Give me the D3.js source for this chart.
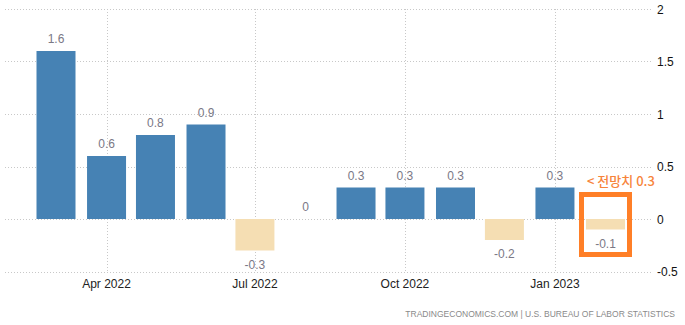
<!DOCTYPE html>
<html><head><meta charset="utf-8">
<script src="https://cdn.jsdelivr.net/npm/d3@7"></script>
<style>body{margin:0;background:#fff}svg{display:block}</style>
</head><body><svg id="c" width="685" height="325"></svg>
<script>
const months = ["2022-03","2022-04","2022-05","2022-06","2022-07","2022-08","2022-09","2022-10","2022-11","2022-12","2023-01","2023-02"];
const values = [1.6,0.6,0.8,0.9,-0.3,0,0.3,0.3,0.3,-0.2,0.3,-0.1];
const yTicks = [-0.5,0,0.5,1,1.5,2];
const xTickDates = ["2022-04","2022-07","2022-10","2023-01"];
const xTickLabels = ["Apr 2022","Jul 2022","Oct 2022","Jan 2023"];
const forecastText = "< 전망치 0.3";
const sourceText = "TRADINGECONOMICS.COM  |  U.S. BUREAU OF LABOR STATISTICS";

const parse = d3.timeParse("%Y-%m");
const svg = d3.select("#c");
const font = "'Liberation Sans', Arial, sans-serif";
const x = d3.scaleTime().domain([parse("2022-03"), parse("2023-02")]).range([56, 605.5]);
const y = d3.scaleLinear().domain([-0.5, 2]).range([271.5, 9]);
const bw = 39;
const left = 5, right = 653;
const fmt = d => String(d);

// horizontal grid
svg.append("g").selectAll("line").data(yTicks).join("line")
  .attr("x1", left).attr("x2", right)
  .attr("y1", d => Math.round(y(d)) + 0.5).attr("y2", d => Math.round(y(d)) + 0.5)
  .attr("stroke", "#c8c8c8").attr("stroke-dasharray", "1,2");
// vertical grid
svg.append("g").selectAll("line").data(xTickDates).join("line")
  .attr("x1", d => Math.round(x(parse(d))) + 0.5).attr("x2", d => Math.round(x(parse(d))) + 0.5)
  .attr("y1", y(2)).attr("y2", y(-0.5))
  .attr("stroke", "#c8c8c8").attr("stroke-dasharray", "1,2");

// y labels
svg.append("g").selectAll("text").data(yTicks).join("text")
  .attr("x", 657).attr("y", d => y(d) + 4.5)
  .attr("font-family", font).attr("font-size", 12).attr("fill", "#111")
  .text(fmt);
// x labels
svg.append("g").selectAll("text").data(xTickDates).join("text")
  .attr("x", d => x(parse(d))).attr("y", 288)
  .attr("text-anchor", "middle")
  .attr("font-family", font).attr("font-size", 12).attr("fill", "#222")
  .text((d, i) => xTickLabels[i]);

const data = months.map((m, i) => ({ date: parse(m), v: values[i] }));
// bars
svg.append("g").selectAll("rect").data(data).join("rect")
  .attr("x", d => x(d.date) - bw / 2).attr("width", bw)
  .attr("y", d => y(Math.max(0, d.v))).attr("height", d => Math.abs(y(d.v) - y(0)))
  .attr("fill", d => d.v >= 0 ? "#4682b4" : "#f5deb3");
// value labels
svg.append("g").selectAll("text").data(data).join("text")
  .attr("x", d => x(d.date)).attr("y", d => d.v >= 0 ? y(d.v) - 8 : y(d.v) + 18)
  .attr("text-anchor", "middle")
  .attr("font-family", font).attr("font-size", 12).attr("fill", "#7a7886")
  .text(d => fmt(d.v));

// forecast highlight
const last = data[data.length - 1];
svg.append("rect")
  .attr("x", x(last.date) - 24).attr("y", 194.5)
  .attr("width", 48).attr("height", 60)
  .attr("fill", "none").attr("stroke", "#ff7f27").attr("stroke-width", 5);
svg.append("text")
  .attr("x", 587).attr("y", 186)
  .attr("font-family", "'Noto Sans CJK KR', sans-serif").attr("font-size", 13)
  .attr("font-weight", 500)
  .attr("fill", "#f7843a").text(forecastText);

// source
svg.append("text")
  .attr("x", 675).attr("y", 317).attr("text-anchor", "end")
  .attr("font-family", font).attr("font-size", 8.5).attr("fill", "#8a8a8a")
  .text(sourceText);
</script></body></html>
